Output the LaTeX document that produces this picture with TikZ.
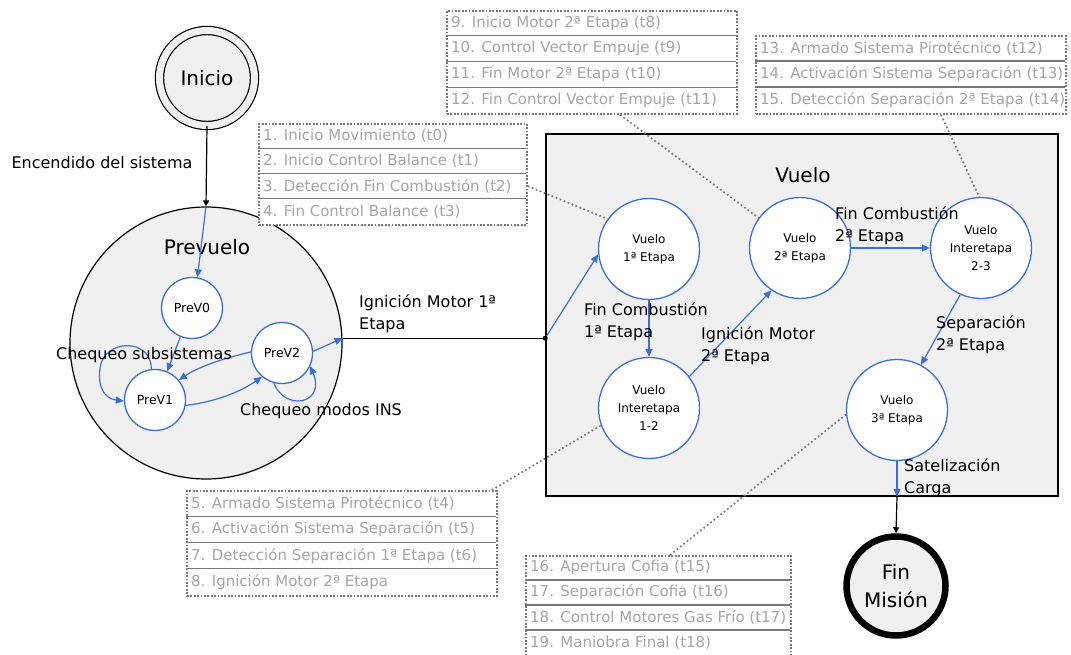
\documentclass[tikz,border=0pt]{standalone}
\usepackage{fontspec}
\setmainfont{DejaVu Sans}
\usetikzlibrary{arrows.meta,calc}

\definecolor{fillgray}{RGB}{240,240,240}
\definecolor{stateblue}{RGB}{60,110,215}
\definecolor{notetext}{RGB}{165,165,165}
\definecolor{noteline}{RGB}{120,120,120}

\tikzset{
  state/.style={circle, draw=stateblue, line width=1.3pt, fill=white, inner sep=0pt,
    align=center, font=\fontsize{12}{18}\selectfont},
  substate/.style={state, minimum size=61pt, font=\fontsize{12.5}{14}\selectfont},
  flightstate/.style={state, minimum size=101pt},
  trans/.style={draw=stateblue, line width=1.2pt, -{Triangle[length=8pt,width=7pt]}},
  maintrans/.style={draw=black, line width=1.2pt, -{Triangle[length=6pt,width=6pt]}},
  lbl/.style={font=\fontsize{16}{22}\selectfont, align=left, inner sep=0pt},
  titletext/.style={font=\fontsize{20}{28}\selectfont, inner sep=0pt, align=center},
  notebox/.style={rectangle, draw=noteline, fill=white, line width=1.8pt,
    dash pattern=on 1.8pt off 1.6pt, inner sep=0pt},
  notetxt/.style={font=\fontsize{15}{17}\selectfont, text=notetext, inner sep=0pt},
  notesep/.style={draw=noteline, line width=1.3pt},
  notelink/.style={draw=noteline, line width=1.7pt, dash pattern=on 1.7pt off 2.6pt},
  junction/.style={circle, fill=black, inner sep=0pt, minimum size=5pt}
}

% table of numbered activities: name, top-left corner, width, height, row height, rows
\newcommand\notetable[6]{%
  \node[notebox, anchor=north west, minimum width=#3pt, minimum height=#4pt] (#1) at (#2) {};
  \foreach \txt [count=\i] in {#6} {
    \node[notetxt, anchor=west] (#1-\i) at ($(#1.north west)+(5,{-(\i-0.5)*#5})$) {\txt};
    \ifnum\i>1
      \draw[notesep] ($(#1.north west)+(0,{-(\i-1)*#5})$) -- ++(#3,0);
    \fi
  }%
}

\begin{document}
\begin{tikzpicture}[x=1pt,y=1pt]
\useasboundingbox (0,0) rectangle (1071,-655);

% super-states
\node[circle, draw=black, line width=1.2pt, fill=fillgray, minimum size=272pt] (prev) at (206,-343) {};
\node[rectangle, draw=black, line width=1.6pt, fill=fillgray, minimum width=512pt, minimum height=362pt] (vuelo) at (802,-315) {};
\node[titletext] (prevtitle) at (207,-247) {Prevuelo};
\node[titletext] (vuelotitle) at (803,-175) {Vuelo};

% start and end states
\node[circle, draw=black, line width=1.2pt, double=fillgray, double distance=7pt, fill=fillgray,
  minimum size=95pt, titletext] (ini) at (207,-78) {Inicio};
\node[circle, draw=black, line width=6.5pt, fill=fillgray, minimum size=99pt, titletext] (fin) at (896,-586) {Fin\\Misión};

% pre-flight states
\node[substate] (p0) at (192,-308) {PreV0};
\node[substate] (p1) at (155,-400) {PreV1};
\node[substate] (p2) at (282,-353) {PreV2};

% flight states
\node[flightstate] (v1) at (649,-249) {Vuelo\\1ª Etapa};
\node[flightstate] (i12) at (649,-408) {Vuelo\\Interetapa\\1-2};
\node[flightstate] (v2) at (800,-248) {Vuelo\\2ª Etapa};
\node[flightstate] (i23) at (981,-248) {Vuelo\\Interetapa\\2-3};
\node[flightstate] (v3) at (897,-410) {Vuelo\\3ª Etapa};

% activity tables
\notetable{tabA}{258,-123}{268}{101}{25.25}{1. Inicio Movimiento (t0), 2. Inicio Control Balance (t1), 3. Detección Fin Combustión (t2), 4. Fin Control Balance (t3)}
\notetable{tabB}{446,-10}{290}{103}{25.75}{9. Inicio Motor 2ª Etapa (t8), 10. Control Vector Empuje (t9), 11. Fin Motor 2ª Etapa (t10), 12. Fin Control Vector Empuje (t11)}
\notetable{tabC}{755,-35}{310}{78}{26}{13. Armado Sistema Pirotécnico (t12), 14. Activación Sistema Separación (t13), 15. Detección Separación 2ª Etapa (t14)}
\notetable{tabD}{186,-490}{310}{105}{26.25}{5. Armado Sistema Pirotécnico (t4), 6. Activación Sistema Separación (t5), 7. Detección Separación 1ª Etapa (t6), 8. Ignición Motor 2ª Etapa}
\notetable{tabE}{525,-555}{265}{100}{25}{16. Apertura Cofia (t15), 17. Separación Cofia (t16), 18. Control Motores Gas Frío (t17), 19. Maniobra Final (t18)}

% links from tables to states
\draw[notelink] (tabA.east |- tabA-3.center) -- (v1.144);
\draw[notelink] ($(tabB.south west)+(174,0)$) -- (v2.144);
\draw[notelink] ($(tabC.south west)+(186,0)$) -- (i23.92);
\draw[notelink] ($(tabD.north east)+(-6,0)$) -- (i12.200);
\draw[notelink] ($(tabE.north west)+(145,0)$) -- (v3.185);

% transitions between super-states
\draw[maintrans] (ini.south) -- (prev.north);
\node[junction] (jn) at (vuelo.west |- prev.2) {};
\draw[draw=black, line width=1.2pt] (prev.2) -- (jn);
\coordinate (vout) at (v3.south |- vuelo.south);
\draw[maintrans] (vout) -- (fin.north);

% pre-flight transitions
\draw[trans] (prev.north) -- (p0.80);
\draw[trans] (p0.-112) -- (p1.67);
\draw[trans] (p1.97) .. controls (152,-338) and (104,-338) .. (100,-368)
  .. controls (97,-392) and (108,-399) .. (p1.182);
\draw[trans] (p2.178) .. controls (225,-358) and (200,-366) .. (p1.40);
\draw[trans] (p1.-10) .. controls (215,-402) and (240,-392) .. (p2.-130);
\draw[trans] (p2.-105) .. controls (285,-412) and (326,-404) .. (p2.-25);
\draw[trans] (p2.3) -- (prev.2);

% flight transitions
\draw[trans] (jn) -- (v1.186);
\draw[trans] (v1.south) -- (i12.north);
\draw[trans] (i12.38) -- (v2.-124);
\draw[trans] (v2.east) -- (i23.west);
\draw[trans] (i23.-114) -- (v3.62);
\draw[trans] (v3.south) -- (vout);

% transition labels
\node[lbl] (lenc) at (102,-163) {Encendido del sistema};
\node[lbl] (lsub) at (144,-355) {Chequeo subsistemas};
\node[lbl] (lins) at (321,-411) {Chequeo modos INS};
\node[lbl, anchor=west] (lig1) at (359,-314) {Ignición Motor 1ª\\Etapa};
\node[lbl, anchor=west] (lfc1) at (584,-322) {Fin Combustión\\1ª Etapa};
\node[lbl, anchor=west] (lig2) at (701,-346) {Ignición Motor\\2ª Etapa};
\node[lbl, anchor=west] (lfc2) at (835,-226) {Fin Combustión\\2ª Etapa};
\node[lbl, anchor=west] (lsep) at (936,-335) {Separación\\2ª Etapa};
\node[lbl, anchor=west] (lsat) at (904,-478) {Satelización\\Carga};
\end{tikzpicture}
\end{document}
